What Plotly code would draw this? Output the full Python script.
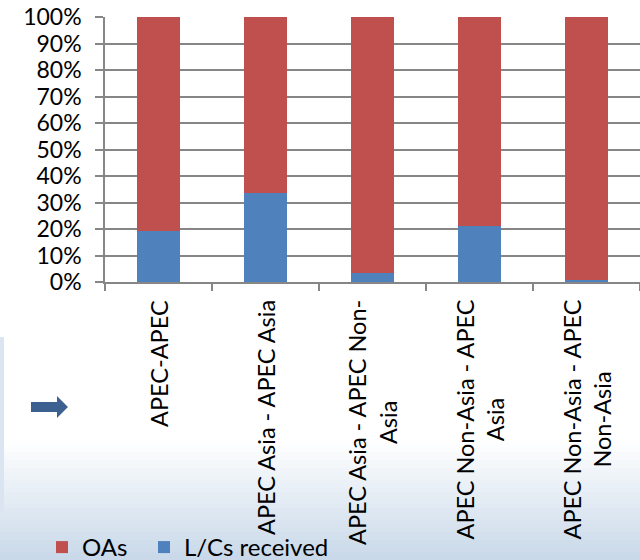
import plotly.graph_objects as go

categories = ["APEC-APEC", "APEC Asia - APEC Asia", "APEC Asia - APEC Non-<br>Asia",
              "APEC Non-Asia - APEC<br>Asia", "APEC Non-Asia - APEC<br>Non-Asia"]
lcs_received = [19.2, 33.5, 3.3, 21.3, 0.8]
oas = [100 - v for v in lcs_received]
yticks = [0, 10, 20, 30, 40, 50, 60, 70, 80, 90, 100]
ytick_labels = [f"{v}%" for v in yticks]

FONT = "Lato"
W, H = 640, 560
L, R, T, B = 105, 640, 17, 282

def px(x):
    return (x - L) / (R - L)

def py(y):
    return (B - y) / (B - T)

fig = go.Figure()
fig.add_trace(go.Bar(x=categories, y=lcs_received, name="L/Cs received", legend="legend2",
                     marker=dict(color="#4F81BD", line=dict(width=0)), width=0.4))
fig.add_trace(go.Bar(x=categories, y=oas, name="OAs", legend="legend",
                     marker=dict(color="#C0504D", line=dict(width=0)), width=0.4))

shapes = []
# background gradient (slide decoration)
n = 30
y0, y1 = 440, 560
c0 = (255, 255, 255)
c1 = (200, 216, 233)
for i in range(n):
    t = (i + 0.5) / n
    c = tuple(int(round(c0[k] + (c1[k] - c0[k]) * t)) for k in range(3))
    ya = y0 + (y1 - y0) * i / n
    yb = y0 + (y1 - y0) * (i + 1) / n + 0.5
    shapes.append(dict(type="rect", xref="paper", yref="paper", layer="below",
                       x0=px(0), x1=px(640), y0=py(ya), y1=py(yb),
                       fillcolor="rgb(%d,%d,%d)" % c, line=dict(width=0)))
# left panel
shapes.append(dict(type="rect", xref="paper", yref="paper", layer="below",
                   x0=px(0), x1=px(4), y0=py(337), y1=py(512),
                   fillcolor="#dbe5f1", line=dict(width=0)))
# arrow
pts = [(31, 402), (57, 402), (57, 396), (68, 407), (57, 418), (57, 412), (31, 412)]
path = "M " + " L ".join(f"{px(a):.5f},{py(b):.5f}" for a, b in pts) + " Z"
shapes.append(dict(type="path", xref="paper", yref="paper", path=path,
                   fillcolor="#3c6190", line=dict(width=0)))

annotations = []
for c in categories:
    annotations.append(dict(x=c, xref="x", y=py(298), yref="paper", text=c,
                            textangle=-90, showarrow=False, yanchor="top", xanchor="center",
                            align="center", font=dict(family=FONT, size=23.5, color="black")))

leg_common = dict(orientation="h", xanchor="left", yanchor="top",
                  font=dict(family=FONT, size=24, color="black"),
                  bgcolor="rgba(0,0,0,0)", itemsizing="constant")

fig.update_layout(
    width=W, height=H,
    margin=dict(l=L, r=W - R, t=T, b=H - B, autoexpand=False),
    paper_bgcolor="white", plot_bgcolor="rgba(0,0,0,0)",
    barmode="stack", bargap=0.6,
    showlegend=True,
    legend=dict(x=px(42), y=py(525), **leg_common),
    legend2=dict(x=px(144), y=py(525), **leg_common),
    shapes=shapes,
    annotations=annotations,
    font=dict(family=FONT, size=22, color="black"),
)
fig.update_xaxes(showgrid=False, showticklabels=False, tickson="boundaries",
                 ticks="outside", ticklen=7, tickcolor="#868686", tickwidth=1.5,
                 showline=True, linecolor="#868686", linewidth=1.5, zeroline=False,
                 automargin=False)
fig.update_yaxes(range=[0, 100], tickvals=yticks, ticktext=ytick_labels,
                 showgrid=True, gridcolor="#868686", gridwidth=1.5,
                 ticks="outside", ticklen=8, tickcolor="#868686", tickwidth=1.5,
                 showline=True, linecolor="#868686", linewidth=1.5, zeroline=False,
                 automargin=False,
                 tickfont=dict(family=FONT, size=23, color="black"), ticklabelstandoff=9)

fig.write_html("out.html")
